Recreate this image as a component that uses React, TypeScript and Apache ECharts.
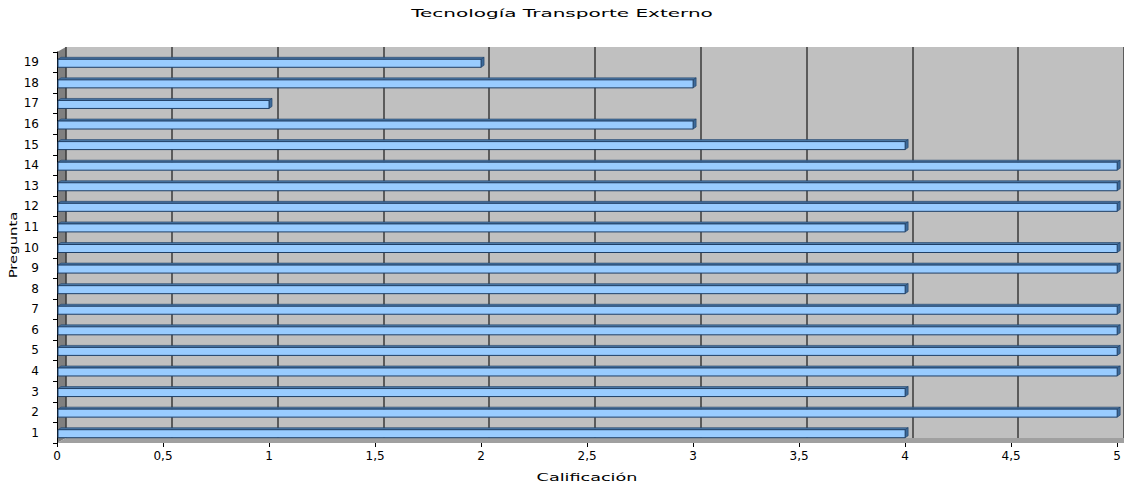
import React, { useEffect, useRef } from "react";
import * as echarts from "echarts";

const categories = ["1","2","3","4","5","6","7","8","9","10","11","12","13","14","15","16","17","18","19"];
const scores = [4,5,4,5,5,5,5,4,5,5,4,5,5,5,4,3,1,3,2];
const titleText = "Tecnología Transporte Externo";
const xName = "Calificación";
const yName = "Pregunta";

const FONT = "DejaVu Sans, sans-serif";

export default function App() {
  const ref = useRef<HTMLDivElement>(null);
  useEffect(() => {
    if (!ref.current) return;
    const chart = echarts.init(ref.current, null, { renderer: "svg" });
    const fmt = (v: number) => String(v).replace(".", ",");
    const L = 57, T = 52, B = 443, D = 9, DY = 5;
    chart.setOption({
      animation: false,
      backgroundColor: "#ffffff",
      graphic: [
        {
          type: "polygon", z: -1,
          shape: { points: [[L, T], [L + D, T - DY], [L + D, B - DY], [L, B]] },
          style: { fill: "#808080" },
        },
        {
          type: "polygon", z: -1,
          shape: { points: [[L, B], [L + D, B - DY], [1124, B - DY], [1124, B]] },
          style: { fill: "#a0a0a0" },
        },
        {
          type: "text", x: 562, y: 13, scaleX: 1.82,
          style: { text: titleText, font: "11px " + FONT, fill: "#000", align: "center", verticalAlign: "middle" },
        },
        {
          type: "text", x: 587, y: 477, scaleX: 1.6,
          style: { text: xName, font: "11px " + FONT, fill: "#000", align: "center", verticalAlign: "middle" },
        },
        {
          type: "text", x: 13, y: 245, rotation: Math.PI / 2, scaleX: 1.35,
          style: { text: yName, font: "11px " + FONT, fill: "#000", align: "center", verticalAlign: "middle" },
        },
      ],
      grid: [
        { left: L, right: 4, top: T, bottom: 487 - B, containLabel: false },
        { left: L + D, right: 4 - D, top: T - DY, bottom: 487 - B + DY, show: true, backgroundColor: "#c0c0c0", borderWidth: 0 },
      ],
      xAxis: [
        {
          type: "value", gridIndex: 0, min: 0, max: 5, interval: 0.5,
          axisLine: { show: false },
          axisTick: { show: true, length: 4, lineStyle: { color: "#000" } },
          splitLine: { show: false },
          axisLabel: { formatter: fmt, fontFamily: FONT, fontSize: 12, color: "#000", margin: 7 },
        },
        {
          type: "value", gridIndex: 1, min: 0, max: 5, interval: 0.5,
          axisLine: { show: false }, axisTick: { show: false }, axisLabel: { show: false },
          splitLine: { show: true, lineStyle: { color: "#3a3a3a", width: 1.5 } },
        },
      ],
      yAxis: [
        {
          type: "category", gridIndex: 0, data: categories,
          axisLine: { show: true, lineStyle: { color: "#000" } },
          axisTick: { show: true, length: 4, lineStyle: { color: "#000" } },
          axisLabel: { fontFamily: FONT, fontSize: 12, color: "#000", margin: 18 },
          splitLine: { show: false },
        },
        {
          type: "category", gridIndex: 1, data: categories,
          axisLine: { show: false }, axisTick: { show: false }, axisLabel: { show: false },
          splitLine: { show: false },
        },
      ],
      series: [
        {
          type: "custom",
          xAxisIndex: 0, yAxisIndex: 0,
          clip: false,
          data: scores.map((v, i) => [v, i]),
          renderItem: (params: any, api: any) => {
            const v = api.value(0);
            const c = api.value(1);
            const p = api.coord([v, c]);
            const p0 = api.coord([0, c]);
            const h = 8, d = 3, d2 = 2;
            const x = p0[0] + 1;
            const y = p[1] - h / 2 + 1;
            const w = p[0] - x;
            return {
              type: "group",
              children: [
                {
                  type: "polygon",
                  shape: { points: [[x, y], [x + d, y - d2], [x + w + d, y - d2], [x + w, y]] },
                  style: { fill: "#4d79a6", stroke: "#1f3f66", lineWidth: 0.6 },
                },
                {
                  type: "polygon",
                  shape: { points: [[x + w, y], [x + w + d, y - d2], [x + w + d, y + h - d2], [x + w, y + h]] },
                  style: { fill: "#3d6a99", stroke: "#1f3f66", lineWidth: 0.6 },
                },
                {
                  type: "rect",
                  shape: { x, y, width: w, height: h },
                  style: { fill: "#99ccff", stroke: "#1f3f66", lineWidth: 1 },
                },
              ],
            };
          },
        },
      ],
    });
    return () => chart.dispose();
  }, []);
  return <div ref={ref} style={{ width: 1124, height: 487, position: "absolute", left: 0, top: 0 }} />;
}
